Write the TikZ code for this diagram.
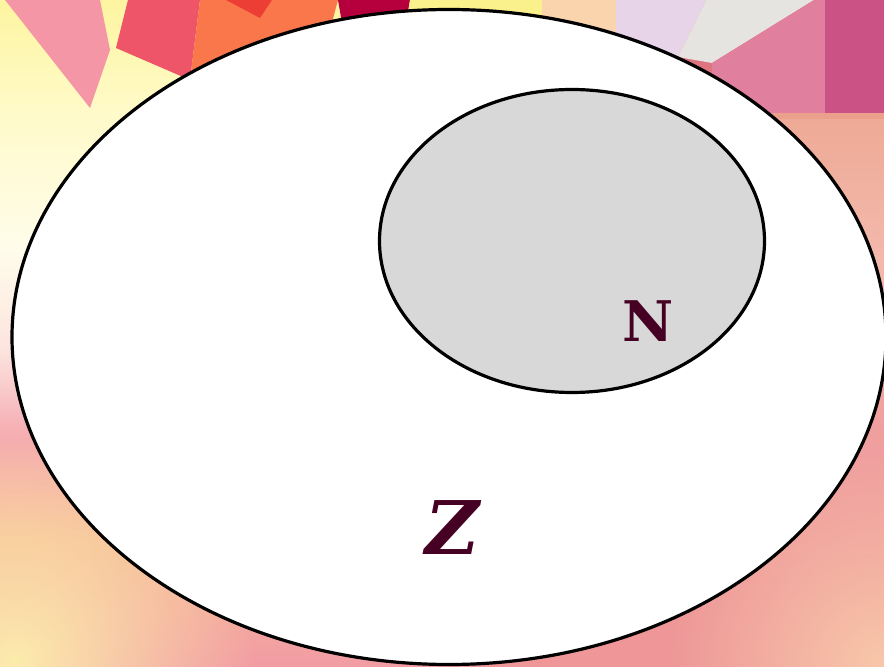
\documentclass[tikz,border=0pt]{standalone}
\usepackage{fontspec}
\setmainfont{DejaVu Serif}
\usepackage{tikz}
\usetikzlibrary{shapes.geometric,fadings}
\definecolor{setline}{RGB}{0,0,0}
\definecolor{setlab}{RGB}{70,0,35}
\definecolor{subfill}{RGB}{216,216,216}
\definecolor{bgpinkA}{RGB}{244,150,165}
\definecolor{bgred}{RGB}{238,85,105}
\definecolor{bgorange}{RGB}{250,118,75}
\definecolor{bgdark}{RGB}{236,62,52}
\definecolor{bgcrim}{RGB}{182,0,62}
\definecolor{bgyel}{RGB}{250,240,140}
\definecolor{bgpeach}{RGB}{250,212,172}
\definecolor{bglav}{RGB}{232,212,232}
\definecolor{bggrey}{RGB}{230,228,224}
\definecolor{bgpinkB}{RGB}{224,128,158}
\definecolor{bgmag}{RGB}{202,82,132}
\definecolor{bgband}{RGB}{235,160,140}
\definecolor{bgrose}{RGB}{238,150,152}
\definecolor{glowyel}{RGB}{252,236,172}
\definecolor{glowpch}{RGB}{248,200,170}
\tikzfading[name=softglow, inner color=transparent!0, outer color=transparent!100]
\tikzset{
  setb/.style ={draw=setline, line width=3.2pt, ellipse, inner sep=0pt},
  glow/.style ={path fading=softglow},
  lab/.style  ={text=setlab, inner sep=0pt, font=\bfseries\fontsize{56}{56}\selectfont},
  labz/.style ={text=setlab, inner sep=0pt, font=\bfseries\itshape\fontsize{74}{74}\selectfont},
}

\begin{document}
\begin{tikzpicture}[x=1pt,y=1pt]
  \useasboundingbox (0,0) rectangle (884,667);
  \clip (0,0) rectangle (884,667);
  % background, left half
  \shade[top color={rgb,255:red,253;green,245;blue,160},bottom color={rgb,255:red,255;green,250;blue,200}] (0,557) rectangle (451,667);
  \shade[top color={rgb,255:red,255;green,250;blue,200},bottom color={rgb,255:red,255;green,252;blue,235}] (0,417) rectangle (451,557);
  \shade[top color={rgb,255:red,255;green,252;blue,235},bottom color={rgb,255:red,252;green,228;blue,222}] (0,317) rectangle (451,417);
  \shade[top color={rgb,255:red,252;green,228;blue,222},bottom color={rgb,255:red,245;green,168;blue,176}] (0,227) rectangle (451,317);
  \shade[top color={rgb,255:red,245;green,168;blue,176},bottom color={rgb,255:red,246;green,182;blue,150}] (0,127) rectangle (451,227);
  \shade[top color={rgb,255:red,246;green,182;blue,150},bottom color={rgb,255:red,242;green,156;blue,164}] (0,0) rectangle (451,127);
  \fill[glowyel, glow] (15,5) circle (240);
  % background, right half
  \shade[top color={rgb,255:red,215;green,100;blue,140},bottom color={rgb,255:red,228;green,128;blue,118}] (450,554) rectangle (884,667);
  \fill[bgband] (450,547) rectangle (884,554);
  \shade[top color={rgb,255:red,238;green,170;blue,150},bottom color={rgb,255:red,243;green,185;blue,172}] (450,407) rectangle (884,547);
  \shade[top color={rgb,255:red,243;green,185;blue,172},bottom color={rgb,255:red,240;green,160;blue,160}] (450,247) rectangle (884,407);
  \shade[top color={rgb,255:red,240;green,160;blue,160},bottom color=bgrose] (450,67) rectangle (884,247);
  \fill[bgrose] (450,0) rectangle (884,67);
  \fill[glowpch, glow] (884,0) circle (220);
  % background, top shapes
  \fill[bgpinkA] (5,667) -- (100,667) -- (110,617) -- (90,559) -- cycle;
  \fill[bgred] (128,667) -- (200,667) -- (190,587) -- (116,619) -- cycle;
  \fill[bgorange] (200,667) -- (338,667) -- (330,637) -- (190,587) -- cycle;
  \fill[bgdark] (226,667) -- (272,667) -- (260,649) -- cycle;
  \fill[bgcrim] (338,667) -- (410,667) -- (405,637) -- (345,627) -- cycle;
  \fill[bgyel] (410,667) -- (542,667) -- (542,630) -- (405,637) -- cycle;
  \fill[bgpeach] (542,667) -- (616,667) -- (616,620) -- (542,630) -- cycle;
  \fill[bglav] (616,667) -- (706,667) -- (678,610) -- (616,620) -- cycle;
  \fill[bggrey] (706,667) -- (814,667) -- (712,604) -- (678,610) -- cycle;
  \fill[bgpinkB] (814,667) -- (825,667) -- (825,554) -- (712,554) -- (712,604) -- cycle;
  \fill[bgmag] (825,667) -- (884,667) -- (884,554) -- (825,554) -- cycle;
  % sets
  \node[setb, fill=white, minimum width=874, minimum height=655] (Z) at (449,330) {};
  \node[setb, fill=subfill, minimum width=385, minimum height=303] (N) at (572,426) {};
  \node[lab] (labN) at (648,346) {N};
  \node[labz] (labZ) at (453,139) {Z};
\end{tikzpicture}
\end{document}
